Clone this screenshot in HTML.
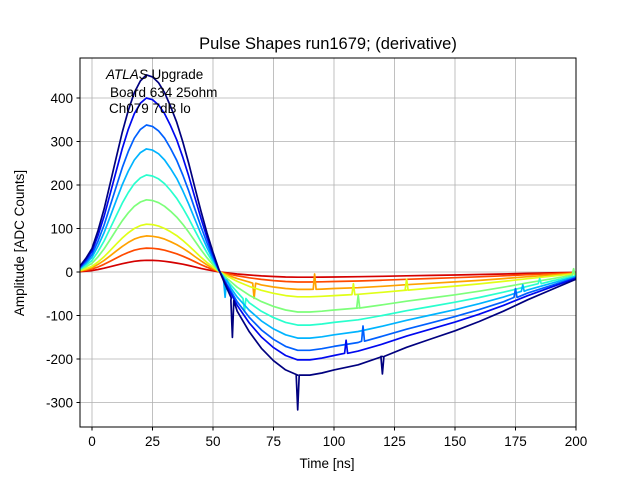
<!DOCTYPE html>
<html><head><meta charset="utf-8"><style>
body{margin:0;background:#fff}
svg{display:block;font-family:"Liberation Sans","DejaVu Sans",sans-serif}
</style></head><body>
<svg id="chart" width="640" height="480" viewBox="0 0 640 480">
<rect width="640" height="480" fill="#fff"/>
<text x="328" y="49" font-size="16.5" text-anchor="middle">Pulse Shapes run1679; (derivative)</text>
<g id="grid"></g>
<g id="series" clip-path="url(#clip)"></g>
<defs><clipPath id="clip"><rect x="80" y="58" width="496" height="369"/></clipPath></defs>
<rect x="80" y="58" width="496" height="369" fill="none" stroke="#000" stroke-width="1"/>
<g id="ticks"></g>
<text x="327" y="468" font-size="13.5" text-anchor="middle">Time [ns]</text>
<text transform="translate(24,243) rotate(-90)" font-size="13.5" text-anchor="middle">Amplitude [ADC Counts]</text>
<g font-size="13.5">
<text x="106" y="79"><tspan font-style="italic">ATLAS</tspan> Upgrade</text>
<text x="110" y="97">Board 634 25ohm</text>
<text x="109" y="113">Ch079 7dB lo</text>
</g>
</svg>
<script>
const times=[-5,-2.5,0,2.5,5,7.5,10,12.5,15,17.5,20,22.5,25,27.5,30,32.5,35,37.5,40,42.5,45,47.5,50,52.5,55,57.5,60,65,70,75,80,85,90,95,100,110,120,130,140,150,160,170,180,190,200];
const shape=[0.03,0.07,0.12,0.21,0.32,0.45,0.58,0.71,0.82,0.91,0.97,1.0,0.99,0.96,0.91,0.84,0.76,0.66,0.55,0.43,0.31,0.2,0.1,0.01,-0.12,-0.25,-0.38,-0.58,-0.74,-0.86,-0.95,-1,-1,-0.98,-0.95,-0.9,-0.82,-0.73,-0.65,-0.57,-0.48,-0.38,-0.27,-0.17,-0.07];
const peaks=[27,55,83,110,166,223,283,338,400,453];
const troughs=[-12,-23,-40,-57,-92,-122,-152,-180,-202,-237];
const colors=["#d40000","#ff4a00","#ffa100","#e0ff17","#7dff7a","#29ffce","#00b4ff","#0060ff","#0008f0","#00007f"];
const spikeSeries=[9,9,2,2,3,3,4,5,7,8,9,7,6,5,4,6];
const spikeTimes=[85,58,67,92,108,130,110,63,112,105,120,175,178,185,199,55];
const spikeDeltas=[-80,-85,-35,35,25,25,30,-30,35,30,-40,20,15,12,15,-40];
const xTicks=[0,25,50,75,100,125,150,175,200];
const yTicks=[-300,-200,-100,0,100,200,300,400];
const X=t=>92+(t)*2.42, Y=v=>272-v*0.435;
const ns="http://www.w3.org/2000/svg";
const grid=document.getElementById('grid'),tk=document.getElementById('ticks'),sg=document.getElementById('series');
function mk(tag,attrs,parent){const e=document.createElementNS(ns,tag);for(const k in attrs)e.setAttribute(k,attrs[k]);parent.appendChild(e);return e;}
xTicks.forEach(t=>{
 const g=mk('line',{x1:X(t),x2:X(t),y1:58,y2:427,stroke:'#b0b0b0','stroke-width':0.8},grid);
 
 
 mk('line',{x1:X(t),x2:X(t),y1:427,y2:430.5,stroke:'#000'},tk);
 const l=mk('text',{x:X(t),y:446,'font-size':13.5,'text-anchor':'middle'},tk);l.textContent=t;
 
 
});
yTicks.forEach(v=>{
 const g=mk('line',{x1:80,x2:576,y1:Y(v),y2:Y(v),stroke:'#b0b0b0','stroke-width':0.8},grid);
 
 
 mk('line',{x1:76.5,x2:80,y1:Y(v),y2:Y(v),stroke:'#000'},tk);
 const l=mk('text',{x:73,y:Y(v)+5,'font-size':13.5,'text-anchor':'end'},tk);l.textContent=v;
 
 
});
peaks.forEach((pk,i)=>{
 let pts=times.map((t,j)=>[t,shape[j]>=0?shape[j]*pk:-shape[j]*troughs[i]]);
 spikeSeries.forEach((s,k)=>{
  if(s!==i)return;
  const t=spikeTimes[k];
  let j=pts.findIndex(p=>p[0]>t);if(j<1)j=pts.length;
  const a=pts[j-1],b=pts[j]||a;
  const base=b[0]===a[0]?a[1]:a[1]+(b[1]-a[1])*(t-a[0])/(b[0]-a[0]);
  pts.splice(j,0,[t-0.6,base],[t,base+spikeDeltas[k]],[t+0.6,base]);
 });
 const p=mk('polyline',{points:pts.map(q=>X(q[0]).toFixed(1)+','+Y(q[1]).toFixed(1)).join(' '),fill:'none',stroke:colors[i],'stroke-width':1.7,'stroke-linejoin':'round'},sg);
 
 
});
</script>
</body></html>
